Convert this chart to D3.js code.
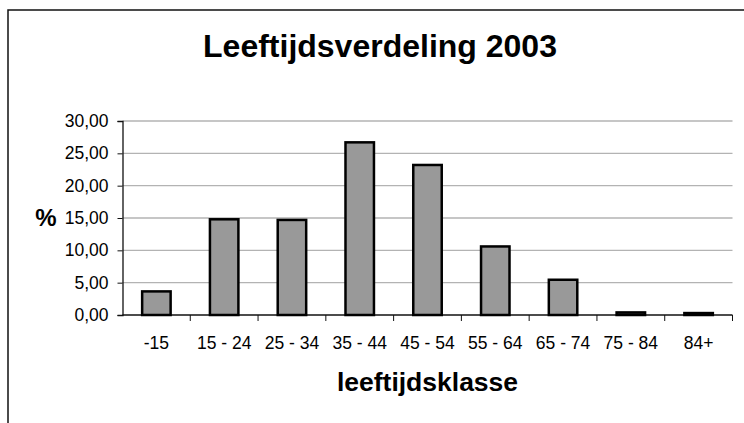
<!DOCTYPE html>
<html>
<head>
<meta charset="utf-8">
<script src="https://cdn.jsdelivr.net/npm/d3@7"></script>
<style>
  body { margin: 0; background: #fff; }
  text { font-family: "Liberation Sans", Arial, sans-serif; fill: #000; }
</style>
</head>
<body>
<div id="grafiek"></div>
<script>
var klassen = ["-15", "15 - 24", "25 - 34", "35 - 44", "45 - 54", "55 - 64", "65 - 74", "75 - 84", "84+"];
var percentages = [3.65, 14.8, 14.7, 26.7, 23.2, 10.6, 5.45, 0.4, 0.3];
var yTicks = [0, 5, 10, 15, 20, 25, 30];

var W = 744, H = 423;
var svg = d3.select("#grafiek").append("svg")
        .attr("width", W)
        .attr("height", H);

// kader rond de grafiek
svg.append("rect")
        .attr("x", 8)
        .attr("y", 10)
        .attr("width", 800)
        .attr("height", 500)
        .attr("fill", "none")
        .attr("stroke", "#111")
        .attr("stroke-width", 1.5);

var margin = {top: 121, left: 122.5, right: 11.5, bottom: 108};
var width = W - margin.left - margin.right;
var height = H - margin.top - margin.bottom;

var x = d3.scaleBand().domain(klassen).range([0, width]).paddingInner(0.58).paddingOuter(0.29);
var xAs = d3.scaleBand().domain(klassen).range([0, width]);
var y = d3.scaleLinear().domain([0, 30]).range([height, 0]);

var g = svg.append("g")
        .attr("transform", "translate(" + margin.left + "," + margin.top + ")");

// rasterlijnen
g.selectAll(".raster")
        .data(yTicks.filter(function (d) { return d > 0; }))
        .enter().append("line")
        .attr("x1", 0)
        .attr("x2", width)
        .attr("y1", function (d) { return y(d); })
        .attr("y2", function (d) { return y(d); })
        .attr("stroke", "#b3b3b3")
        .attr("stroke-width", 1.3);

// y-as
var yAxis = g.append("g")
        .call(d3.axisLeft(y).tickValues(yTicks).tickSize(5).tickPadding(9)
                .tickFormat(function (d) { return d3.format(".2f")(d).replace(".", ","); }));
yAxis.select(".domain").attr("stroke", "#111").attr("stroke-width", 1.3);
yAxis.selectAll(".tick line").attr("stroke", "#111");
yAxis.selectAll("text").style("font-size", "17.5px").attr("fill", "#000");

// x-as: streepjes tussen de klassen
var xAxisG = g.append("g").attr("transform", "translate(0," + height + ")");
xAxisG.append("line")
        .attr("x1", 0).attr("x2", width)
        .attr("stroke", "#111").attr("stroke-width", 1.3);
xAxisG.selectAll(".xtick")
        .data(klassen)
        .enter().append("line")
        .attr("x1", function (d) { return xAs(d) + xAs.bandwidth(); })
        .attr("x2", function (d) { return xAs(d) + xAs.bandwidth(); })
        .attr("y1", 0)
        .attr("y2", 6)
        .attr("stroke", "#111");
xAxisG.selectAll(".xlabel")
        .data(klassen)
        .enter().append("text")
        .attr("x", function (d) { return xAs(d) + xAs.bandwidth() / 2; })
        .attr("y", 33.5)
        .attr("text-anchor", "middle")
        .style("font-size", "17.5px")
        .text(function (d) { return d; });

// staven
g.selectAll(".bar")
        .data(percentages)
        .enter().append("rect")
        .attr("class", "bar")
        .attr("x", function (d, i) { return x(klassen[i]); })
        .attr("y", function (d) { return y(d); })
        .attr("width", x.bandwidth())
        .attr("height", function (d) { return height - y(d); })
        .attr("fill", "#999999")
        .attr("stroke", "#000")
        .attr("stroke-width", 2.5);

// titels
svg.append("text")
        .attr("x", 380)
        .attr("y", 56.5)
        .attr("text-anchor", "middle")
        .style("font-size", "32px")
        .style("font-weight", "bold")
        .text("Leeftijdsverdeling 2003");

svg.append("text")
        .attr("x", margin.left + width / 2)
        .attr("y", 390.5)
        .attr("text-anchor", "middle")
        .style("font-size", "26.5px")
        .style("font-weight", "bold")
        .text("leeftijdsklasse");

svg.append("text")
        .attr("x", 46)
        .attr("y", 226)
        .attr("text-anchor", "middle")
        .style("font-size", "24px")
        .style("font-weight", "bold")
        .text("%");
</script>
</body>
</html>
